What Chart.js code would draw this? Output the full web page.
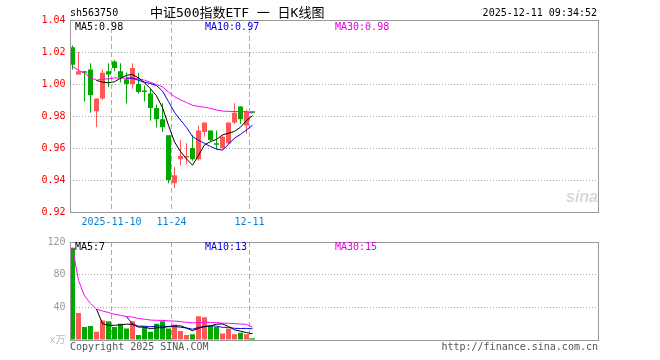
<!DOCTYPE html>
<html>
<head>
<meta charset="utf-8">
<script src="https://cdn.jsdelivr.net/npm/chart.js@4.4.1/dist/chart.umd.min.js"></script>
<style>
  body { margin: 0; background: #fff; }
  #wrap { position: relative; width: 660px; height: 360px; overflow: hidden;
          font-family: "DejaVu Sans Mono", "Noto Sans CJK SC", monospace; font-size: 10px; }
  canvas { position: absolute; left: 0; }
  .t { position: absolute; white-space: nowrap; line-height: 12px; }
</style>
</head>
<body>
<div id="wrap">
  <canvas id="price" width="660" height="232" style="top:0"></canvas>
  <canvas id="vol" width="660" height="128" style="top:232px"></canvas>

  <div class="t" style="left:70px;top:7px;color:#000">sh563750</div>
  <div class="t" style="left:150px;top:5px;font-size:13px;line-height:16px;color:#000">中证500指数ETF 一 日K线图</div>
  <div class="t" style="right:63px;top:7px;color:#000">2025-12-11 09:34:52</div>

  <div class="t" id="lblMa5" style="left:75px;top:21px;color:#000"></div>
  <div class="t" id="lblMa10" style="left:205px;top:21px;color:#0000e0"></div>
  <div class="t" id="lblMa30" style="left:335px;top:21px;color:#e000e0"></div>

  <div class="t" id="lblVMa5" style="left:75px;top:241px;color:#000"></div>
  <div class="t" id="lblVMa10" style="left:205px;top:241px;color:#0000e0"></div>
  <div class="t" id="lblVMa30" style="left:335px;top:241px;color:#e000e0"></div>

  <div class="t" style="left:566px;top:188px;font:italic bold 16px 'Liberation Sans';color:#d8d8d8">sina</div>

  <div class="t" style="left:70px;top:341px;color:#555">Copyright 2025 SINA.COM</div>
  <div class="t" style="right:62px;top:341px;color:#555">http://finance.sina.com.cn</div>
</div>

<script>
// daily candles, 2025-10-30 .. 2025-12-11
var dates = ['2025-10-30','2025-10-31','2025-11-03','2025-11-04','2025-11-05','2025-11-06','2025-11-07',
  '2025-11-10','2025-11-11','2025-11-12','2025-11-13','2025-11-14','2025-11-17','2025-11-18','2025-11-19',
  '2025-11-20','2025-11-21','2025-11-24','2025-11-25','2025-11-26','2025-11-27','2025-11-28','2025-12-01',
  '2025-12-02','2025-12-03','2025-12-04','2025-12-05','2025-12-08','2025-12-09','2025-12-10','2025-12-11'];
var open  = [1.023,1.006,1.008,1.009,0.983,0.991,1.008,1.014,1.008,1.003,1.000,1.000,0.996,0.994,0.985,0.978,
  0.968,0.938,0.953,0.954,0.960,0.953,0.970,0.971,0.963,0.960,0.963,0.976,0.986,0.974,0.983];
var high  = [1.024,1.020,1.008,1.013,0.991,1.009,1.013,1.015,1.013,1.007,1.013,1.007,0.999,0.997,0.987,0.988,
  0.968,0.948,0.965,0.963,0.968,0.974,0.976,0.971,0.971,0.968,0.976,0.988,0.986,0.984,0.983];
var low   = [1.009,1.006,0.989,0.982,0.973,0.990,0.998,1.008,1.001,0.988,0.997,0.994,0.989,0.977,0.973,0.970,
  0.938,0.935,0.949,0.950,0.952,0.952,0.967,0.964,0.959,0.959,0.962,0.975,0.975,0.969,0.982];
var close = [1.012,1.008,1.007,0.993,0.991,1.007,1.006,1.010,1.004,1.000,1.010,0.995,0.995,0.985,0.978,0.973,
  0.940,0.943,0.955,0.955,0.953,0.971,0.976,0.965,0.962,0.967,0.976,0.982,0.978,0.983,0.982];

var ma5  = [null,null,null,null,1.0022,1.0012,1.0008,1.0014,1.0036,1.0054,1.0060,1.0038,1.0008,0.9970,0.9926,
  0.9852,0.9742,0.9638,0.9578,0.9532,0.9492,0.9554,0.9620,0.9640,0.9654,0.9682,0.9692,0.9704,0.9730,0.9772,0.9802];
var ma10 = [null,null,null,null,null,null,null,null,null,1.0038,1.0036,1.0023,1.0011,1.0003,0.9990,0.9956,
  0.9890,0.9823,0.9774,0.9729,0.9672,0.9648,0.9629,0.9609,0.9593,0.9587,0.9623,0.9662,0.9685,0.9713,0.9742];
var ma30 = [1.0110,1.0085,1.0068,1.0040,1.0024,1.0030,1.0032,1.0038,1.0038,1.0035,1.0038,1.0032,1.0024,1.0010,
  0.9996,0.9982,0.9949,0.9921,0.9901,0.9884,0.9867,0.9860,0.9855,0.9847,0.9838,0.9831,0.9829,0.9828,0.9827,0.9827,0.9817];

// volume, 万手
var volume = [113,33,16,17,10,24,23,16,20,14,23,6,16,10,20,23,14,19,11,6,7,29,28,17,16,8,14,7,9,7,2];
var volMa5  = [null,null,null,null,37.8,20,18,18,18.6,19.4,19.2,15.8,15.8,13.8,15,15,16.6,17.2,17.4,14.6,
  11.4,14.4,16.2,17.4,19.4,19.6,16.6,12.4,10.8,9.0,7.8];
var volMa10 = [null,null,null,null,null,null,null,null,null,28.6,19.6,16.9,16.9,16.2,17.2,17.1,16.2,16.5,
  15.6,14.8,13.2,15.5,16.7,17.4,17.0,15.5,15.5,14.3,14.1,14.2,13.7];
var volMa30 = [113,73,54,44.8,37.8,35.5,33.7,31.5,30.2,28.6,28.1,26.3,25.5,24.4,24.1,24.0,23.4,23.2,22.5,
  21.7,21.0,21.4,21.7,21.5,21.2,20.7,20.5,20.0,19.6,19.2,15.5];

var tickDates = ['2025-11-10','2025-11-24','2025-12-11'];
var priceTicks = { min: 0.92, max: 1.04, step: 0.02 };
var volTicks = { min: 0, max: 120, step: 40 };

var SLOTS = 88;
var RED = '#ff5656', GREEN = '#00a800';
var FONT = { family: '"DejaVu Sans Mono", "Noto Sans CJK SC", monospace', size: 10 };

//padding the category axis out to the full chart width
var slotLabels = dates.slice();
while (slotLabels.length < SLOTS) slotLabels.push('');

var candleColors = close.map(function(c, i) { return c >= open[i] ? RED : GREEN; });
var bodies = close.map(function(c, i) { return [Math.min(open[i], c), Math.max(open[i], c)]; });
var wicks = low.map(function(l, i) { return [l, high[i]]; });

//labels inside panels
var last = dates.length - 1;
document.getElementById('lblMa5').textContent = 'MA5:' + ma5[last].toFixed(2);
document.getElementById('lblMa10').textContent = 'MA10:' + ma10[last].toFixed(2);
document.getElementById('lblMa30').textContent = 'MA30:' + ma30[last].toFixed(2);
document.getElementById('lblVMa5').textContent = 'MA5:' + Math.floor(volMa5[last]);
document.getElementById('lblVMa10').textContent = 'MA10:' + Math.floor(volMa10[last]);
document.getElementById('lblVMa30').textContent = 'MA30:' + Math.floor(volMa30[last]);

var framePlugin = {
  id: 'frame',
  afterDraw: function(chart) {
    var a = chart.chartArea, ctx = chart.ctx;
    var l = Math.round(a.left), r = Math.round(a.right), t = Math.round(a.top), b = Math.round(a.bottom);
    ctx.save();
    ctx.strokeStyle = '#999';
    ctx.lineWidth = 1;
    ctx.strokeRect(l + 0.5, t + 0.5, r - l, b - t);
    ctx.restore();
  }
};

function vGridColor(ctx) {
  return tickDates.indexOf(slotLabels[ctx.index]) >= 0 ? '#aaa' : 'rgba(0,0,0,0)';
}

function lineSet(data, color) {
  return { type: 'line', data: data, borderColor: color, borderWidth: 1, pointRadius: 0,
           tension: 0, fill: false, order: 0 };
}

function xScale(showLabels) {
  return {
    offset: true,
    grid: { offset: true, color: vGridColor, drawTicks: false, lineWidth: 1 },
    border: { display: false, dash: [5, 3] },
    ticks: {
      display: showLabels, autoSkip: false, maxRotation: 0, padding: 4, labelOffset: -3,
      color: '#0a80d0', font: FONT,
      callback: function(v, i) {
        var k = tickDates.indexOf(slotLabels[i]);
        if (k < 0) return '';
        return k === 0 ? slotLabels[i] : slotLabels[i].slice(5);
      }
    },
    afterFit: function(s) { s.height = 20; }
  };
}

var baseOptions = function(top, yScale, showLabels) {
  return {
    responsive: false, animation: false, devicePixelRatio: 1,
    layout: { padding: { left: 0, right: 62.5, top: top, bottom: 0 } },
    plugins: { legend: { display: false }, tooltip: { enabled: false } },
    scales: { x: xScale(showLabels), y: yScale }
  };
};

new Chart(document.getElementById('price'), {
  type: 'bar',
  data: {
    labels: slotLabels,
    datasets: [
      lineSet(ma5, '#000000'),
      lineSet(ma10, '#0000ff'),
      lineSet(ma30, '#ff00ff'),
      { data: bodies, backgroundColor: candleColors, grouped: false, barPercentage: 5 / 6,
        categoryPercentage: 1, minBarLength: 1, order: 1 },
      { data: wicks, backgroundColor: candleColors, grouped: false, barPercentage: 1 / 6,
        categoryPercentage: 1, order: 2 }
    ]
  },
  options: baseOptions(20, {
    min: priceTicks.min, max: priceTicks.max,
    grid: { color: '#aaa', drawTicks: false },
    border: { display: false, dash: [1, 2] },
    ticks: { stepSize: priceTicks.step, color: '#ff0000', padding: 4, font: FONT,
             callback: function(v) { return v.toFixed(2); } },
    afterFit: function(s) { s.width = 69.5; }
  }, true),
  plugins: [framePlugin]
});

new Chart(document.getElementById('vol'), {
  type: 'bar',
  data: {
    labels: slotLabels,
    datasets: [
      lineSet(volMa5, '#000000'),
      lineSet(volMa10, '#0000ff'),
      lineSet(volMa30, '#ff00ff'),
      { data: volume, backgroundColor: candleColors, grouped: false, barPercentage: 5 / 6,
        categoryPercentage: 1, order: 1 }
    ]
  },
  options: baseOptions(8, {
    min: volTicks.min, max: volTicks.max,
    grid: { color: '#aaa', drawTicks: false },
    border: { display: false, dash: [1, 2] },
    ticks: { stepSize: volTicks.step, padding: 4, font: FONT,
             color: function(c) { return c.tick.value === 0 ? '#bbb' : '#999'; },
             callback: function(v) { return v === 0 ? 'x万' : v; } },
    afterFit: function(s) { s.width = 69.5; }
  }, false),
  plugins: [framePlugin]
});
</script>
</body>
</html>
